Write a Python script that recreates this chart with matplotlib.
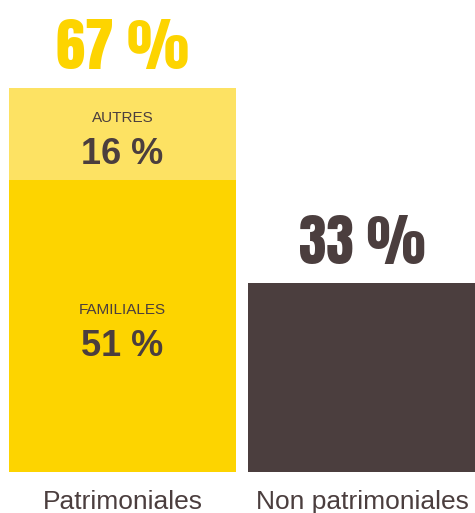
import matplotlib
matplotlib.use("Agg")
import matplotlib.pyplot as plt

# données
categories = ["Patrimoniales", "Non patrimoniales"]
segments_patri = [51, 16]
segments_labels = ["FAMILIALES", "AUTRES"]
non_patri = 33
totaux = ["67 %", "33 %"]

JAUNE = "#FDD400"
JAUNE_CLAIR = "#FDE263"
BRUN = "#4B3E3E"

SANS = ["Liberation Sans", "Arimo", "DejaVu Sans"]
COND = ["Anton", "DejaVu Sans"]

DPI = 100
PX = 72 / DPI  # pixels -> points

fig = plt.figure(figsize=(4.75, 5.13), dpi=DPI)
ax = fig.add_axes([0, 0, 1, 1])
ax.set_xlim(-0.511, 1.472)
ax.set_ylim(-7.16, 82.4)
ax.axis("off")

largeur = 0.948
x = [0, 1]

# barre empilée
bas = 0
for val, coul, lab in zip(segments_patri, [JAUNE, JAUNE_CLAIR], segments_labels):
    ax.bar(x[0], val, bottom=bas, width=largeur, color=coul, linewidth=0)
    milieu = bas + val / 2
    ax.annotate(lab, (x[0], milieu), xytext=(0, 12 * PX), textcoords="offset points",
                ha="center", va="baseline", fontsize=11, color=BRUN, family=SANS)
    ax.annotate(f"{val} %", (x[0], milieu), xytext=(0, -30 * PX), textcoords="offset points",
                ha="center", va="baseline", fontsize=26, fontweight="bold", color=BRUN,
                family=SANS)
    bas += val

ax.bar(x[1], non_patri, width=largeur, color=BRUN, linewidth=0)

# totaux au-dessus
hauteurs = [sum(segments_patri), non_patri]
tailles = [42, 40]
couleurs = [JAUNE, BRUN]
for xi, h, t, c, s in zip(x, hauteurs, totaux, couleurs, tailles):
    ax.annotate(t, (xi, h), xytext=(0, 19 * PX), textcoords="offset points",
                ha="center", va="baseline", fontsize=s, color=c, family=COND)

# libellés catégories
for xi, cat in zip(x, categories):
    ax.annotate(cat, (xi, 0), xytext=(0, -37 * PX), textcoords="offset points",
                ha="center", va="baseline", fontsize=19, color=BRUN, family=SANS)

fig.savefig("out.png", dpi=DPI)
